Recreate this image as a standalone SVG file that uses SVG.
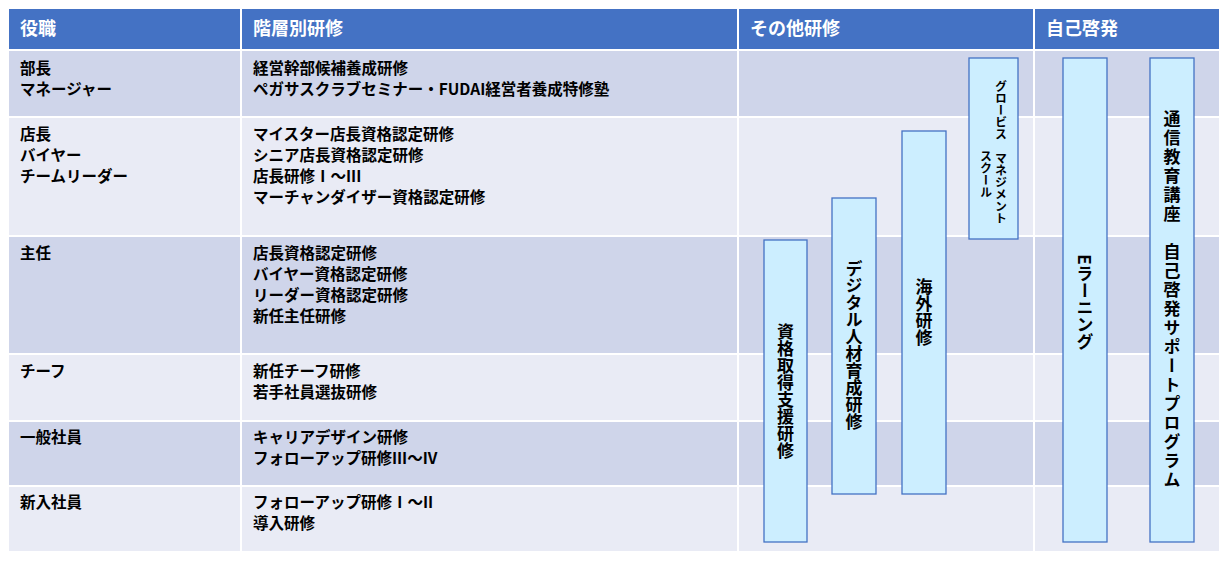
<svg xmlns="http://www.w3.org/2000/svg" width="1229" height="561" viewBox="0 0 1229 561">
<style>
.h{fill:#4472c4}.d{fill:#cfd5ea}.l{fill:#e9ebf5}
.ht{font-family:"Noto Sans CJK JP","Noto Sans",sans-serif;font-size:18px;font-weight:bold;fill:#fff}
.t{font-family:"Noto Sans CJK JP","Noto Sans",sans-serif;font-size:15.5px;font-weight:bold;fill:#000}
.b{fill:#cceeff;stroke:#4472c4;stroke-width:1.3}
.v{font-family:"Noto Sans CJK JP","Noto Sans",sans-serif;font-size:17px;font-weight:bold;fill:#000;writing-mode:vertical-rl;text-anchor:middle}
.vs{font-family:"Noto Sans CJK JP","Noto Sans",sans-serif;font-size:12px;font-weight:bold;fill:#000;writing-mode:vertical-rl}
</style>
<rect width="1229" height="561" fill="#fff"/>
<g id="table">
<rect class="h" x="9" y="9" width="231" height="40"/><rect class="h" x="242" y="9" width="495" height="40"/><rect class="h" x="739" y="9" width="294" height="40"/><rect class="h" x="1035" y="9" width="184" height="40"/>
<text class="ht" x="20" y="35">役職</text><text class="ht" x="253" y="35">階層別研修</text><text class="ht" x="750" y="35">その他研修</text><text class="ht" x="1046" y="35">自己啓発</text>
<g id="rows">
<rect class="d" x="9" y="51" width="231" height="65"/><rect class="d" x="242" y="51" width="495" height="65"/><rect class="d" x="739" y="51" width="294" height="65"/><rect class="d" x="1035" y="51" width="184" height="65"/>
<rect class="l" x="9" y="118" width="231" height="117"/><rect class="l" x="242" y="118" width="495" height="117"/><rect class="l" x="739" y="118" width="294" height="117"/><rect class="l" x="1035" y="118" width="184" height="117"/>
<rect class="d" x="9" y="237" width="231" height="116"/><rect class="d" x="242" y="237" width="495" height="116"/><rect class="d" x="739" y="237" width="294" height="116"/><rect class="d" x="1035" y="237" width="184" height="116"/>
<rect class="l" x="9" y="355" width="231" height="65"/><rect class="l" x="242" y="355" width="495" height="65"/><rect class="l" x="739" y="355" width="294" height="65"/><rect class="l" x="1035" y="355" width="184" height="65"/>
<rect class="d" x="9" y="422" width="231" height="63"/><rect class="d" x="242" y="422" width="495" height="63"/><rect class="d" x="739" y="422" width="294" height="63"/><rect class="d" x="1035" y="422" width="184" height="63"/>
<rect class="l" x="9" y="487" width="231" height="64"/><rect class="l" x="242" y="487" width="495" height="64"/><rect class="l" x="739" y="487" width="294" height="64"/><rect class="l" x="1035" y="487" width="184" height="64"/>
</g>
<g id="texts">
<text class="t" x="20" y="74">部長</text><text class="t" x="20" y="95">マネージャー</text>
<text class="t" x="253" y="74">経営幹部候補養成研修</text><text class="t" x="253" y="95">ペガサスクラブセミナー・FUDAI経営者養成特修塾</text>
<text class="t" x="20" y="140">店長</text><text class="t" x="20" y="161">バイヤー</text><text class="t" x="20" y="182">チームリーダー</text>
<text class="t" x="253" y="140">マイスター店長資格認定研修</text><text class="t" x="253" y="161">シニア店長資格認定研修</text><text class="t" x="253" y="182">店長研修Ⅰ～III</text><text class="t" x="253" y="203">マーチャンダイザー資格認定研修</text>
<text class="t" x="20" y="259">主任</text>
<text class="t" x="253" y="259">店長資格認定研修</text><text class="t" x="253" y="280">バイヤー資格認定研修</text><text class="t" x="253" y="301">リーダー資格認定研修</text><text class="t" x="253" y="322">新任主任研修</text>
<text class="t" x="20" y="377">チーフ</text>
<text class="t" x="253" y="377">新任チーフ研修</text><text class="t" x="253" y="398">若手社員選抜研修</text>
<text class="t" x="20" y="443">一般社員</text>
<text class="t" x="253" y="443">キャリアデザイン研修</text><text class="t" x="253" y="464">フォローアップ研修III～IV</text>
<text class="t" x="20" y="508">新入社員</text>
<text class="t" x="253" y="508">フォローアップ研修Ⅰ～II</text><text class="t" x="253" y="529">導入研修</text>
</g>
</g>
<g id="n1"><rect class="b" x="764" y="240" width="43" height="302"/><text class="v" x="785.5" y="391">資格取得支援研修</text></g>
<g id="n2"><rect class="b" x="832" y="198" width="44" height="296"/><text class="v" x="854" y="345">デジタル人材育成研修</text></g>
<g id="n3"><rect class="b" x="902" y="131" width="44" height="363"/><text class="v" x="924" y="312">海外研修</text></g>
<g id="n4"><rect class="b" x="969" y="58" width="49" height="181"/><text class="vs" x="1001" y="80">グロービス　マネジメント</text><text class="vs" x="986" y="150">スクール</text></g>
<g id="n5"><rect class="b" x="1063" y="58" width="44" height="484"/><text class="v" x="1085" y="302">Eラーニング</text></g>
<g id="n6"><rect class="b" x="1150" y="58" width="44" height="484"/><text class="v" x="1172" y="300" letter-spacing="2">通信教育講座　自己啓発サポートプログラム</text></g>
<g id="connectors"/>
</svg>
